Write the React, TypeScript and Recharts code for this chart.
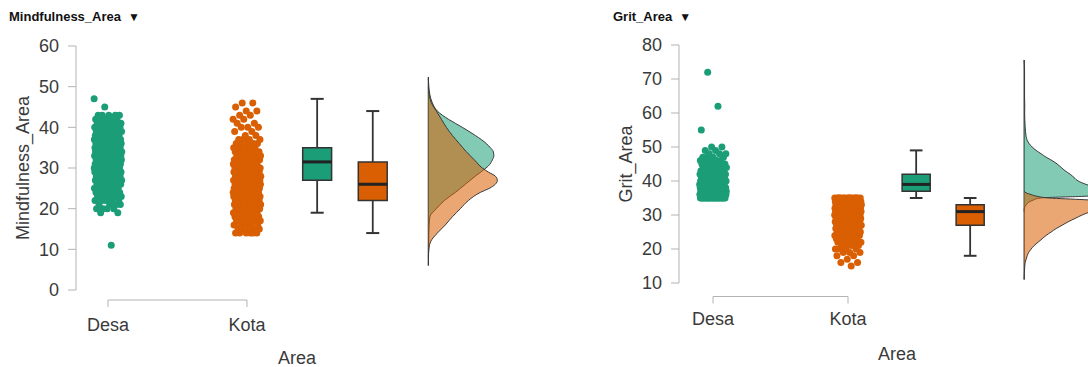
import React from 'react';
import { ComposedChart, XAxis, YAxis, Scatter, ReferenceArea, ReferenceLine, Curve } from 'recharts';

// ---------- shared categories / styling ----------
const groups = ['Desa', 'Kota'];
const groupPos = [1, 2];
const boxPos = [2.505, 2.905];
const DENS_BASE = 3.305;
const GREEN = '#1b9e77';
const ORANGE = '#d95f02';
const AXIS = '#b3b3b3';
const TEXT = '#3a3a3a';
const FONT = '"Liberation Sans", Arial, Helvetica, sans-serif';

// ---------- Mindfulness_Area ----------
const mindDesaScores = [11, 19, 20, 21, 22, 23, 24, 25, 26, 27, 28, 29, 30, 31, 32, 33, 34, 35, 36, 37, 38, 39, 40, 41, 42, 43, 45, 47];
const mindDesaCounts = [1, 2, 4, 4, 5, 6, 7, 8, 9, 10, 11, 12, 13, 13, 14, 15, 15, 14, 12, 11, 10, 9, 8, 7, 6, 5, 1, 1];
const mindKotaScores = [14, 15, 16, 17, 18, 19, 20, 21, 22, 23, 24, 25, 26, 27, 28, 29, 30, 31, 32, 33, 34, 35, 36, 37, 38, 39, 40, 41, 42, 43, 44, 45, 46];
const mindKotaCounts = [6, 5, 5, 6, 7, 8, 9, 10, 11, 12, 13, 14, 15, 15, 14, 12, 11, 10, 9, 8, 7, 6, 5, 4, 2, 2, 3, 2, 2, 2, 2, 1, 2];
// box: min, Q1, median, Q3, max
const mindDesaBox = [19, 27, 31.5, 35, 47];
const mindKotaBox = [14, 22, 26, 31.5, 44];
// density (x1000) at score
const mindDesaDensY = [6, 10, 14, 16, 18, 20, 22, 24, 26, 28, 29.5, 30.5, 32, 33, 34, 35, 36, 37, 38, 40, 42, 44, 46, 48, 50, 52];
const mindDesaDens = [0, 0.3, 0.5, 0.8, 1.5, 8, 16, 27, 37, 47, 55, 60, 64, 65.5, 65, 62, 58, 53, 47, 34, 20, 9, 4, 1.5, 0.5, 0];
const mindKotaDensY = [8, 10, 12, 14, 16, 18, 19, 20, 22, 24, 25, 26, 27, 28, 29, 30, 32, 34, 36, 38, 40, 42, 44, 46, 48, 50];
const mindKotaDens = [0, 0.5, 2.5, 9, 17, 24, 28, 32, 40, 52, 61, 67, 69, 67, 60, 54, 46, 38, 31, 24, 18, 13, 8, 3, 1, 0];
const mindTicks = [0, 10, 20, 30, 40, 50, 60];

// ---------- Grit_Area ----------
const gritDesaScores = [35, 36, 37, 38, 39, 40, 41, 42, 43, 44, 45, 46, 47, 48, 49, 50, 55, 62, 72];
const gritDesaCounts = [20, 22, 20, 18, 16, 14, 12, 10, 8, 7, 6, 5, 4, 3, 2, 2, 1, 1, 1];
const gritKotaScores = [15, 16, 17, 18, 19, 20, 21, 22, 23, 24, 25, 26, 27, 28, 29, 30, 31, 32, 33, 34, 35];
const gritKotaCounts = [1, 2, 1, 2, 3, 4, 4, 5, 6, 7, 8, 9, 10, 12, 13, 14, 16, 18, 20, 18, 16];
const gritDesaBox = [35, 37, 39, 42, 49];
const gritKotaBox = [18, 27, 31, 33, 35];
const gritDesaDensY = [31, 32, 33, 34, 34.5, 35, 35.5, 36, 37, 38, 39, 40, 41, 42, 43, 44, 45, 46, 47, 48, 49, 50, 51, 53, 56, 60, 62, 65, 72, 75.6];
const gritDesaDens = [0, 0.2, 2, 6, 10, 16, 60, 95, 85, 72, 62, 54, 50, 46, 41, 37, 33, 28, 22, 17, 12, 8, 5, 2, 1, 0.5, 0.6, 0.4, 0.4, 0];
const gritKotaDensY = [11, 13, 15, 16, 17, 18, 19, 20, 21, 22, 23, 24, 25, 26, 27, 28, 29, 30, 31, 32, 33, 34, 34.5, 35, 35.5, 36, 36.5, 37];
const gritKotaDens = [0, 0.2, 0.6, 1, 2, 3, 4.5, 7, 10, 14, 18, 22, 27, 32, 38, 44, 51, 58, 67, 80, 92, 88, 60, 25, 13, 7, 2, 0];
const gritTicks = [10, 20, 30, 40, 50, 60, 70, 80];

type Cfg = {
  title: string; yLabel: string; left: number; titleX: number;
  yDomain: number[]; yTicks: number[]; top: number; bottom: number; right: number;
  xDomain: number[]; pxPerUnit: number; gap: number; labelDy: number; areaOffset: number;
  desaScores: number[]; desaCounts: number[]; kotaScores: number[]; kotaCounts: number[];
  desaBox: number[]; kotaBox: number[];
  desaDensY: number[]; desaDens: number[]; kotaDensY: number[]; kotaDens: number[];
  baseRange: number[];
};

const panels: Cfg[] = [
  {
    title: 'Mindfulness_Area', yLabel: 'Mindfulness_Area', left: 0, titleX: 9,
    yDomain: [0, 60], yTicks: mindTicks, top: 46, bottom: 290, right: 84,
    xDomain: [0.77, 3.95], pxPerUnit: 139, gap: 10, labelDy: 41, areaOffset: 3,
    desaScores: mindDesaScores, desaCounts: mindDesaCounts, kotaScores: mindKotaScores, kotaCounts: mindKotaCounts,
    desaBox: mindDesaBox, kotaBox: mindKotaBox,
    desaDensY: mindDesaDensY, desaDens: mindDesaDens, kotaDensY: mindKotaDensY, kotaDens: mindKotaDens,
    baseRange: [6, 52.4],
  },
  {
    title: 'Grit_Area', yLabel: 'Grit_Area', left: 603, titleX: 10,
    yDomain: [10, 80], yTicks: gritTicks, top: 45, bottom: 283, right: 90,
    xDomain: [0.748, 3.978], pxPerUnit: 135, gap: 13.5, labelDy: 42, areaOffset: 7,
    desaScores: gritDesaScores, desaCounts: gritDesaCounts, kotaScores: gritKotaScores, kotaCounts: gritKotaCounts,
    desaBox: gritDesaBox, kotaBox: gritKotaBox,
    desaDensY: gritDesaDensY, desaDens: gritDesaDens, kotaDensY: gritKotaDensY, kotaDens: gritKotaDens,
    baseRange: [11, 75.6],
  },
];

const JITTER = 0.1;
const BOX_HW = 0.104;
const CAP_HW = 0.047;

function expand(scores: number[], counts: number[], pos: number) {
  const pts: { x: number; y: number }[] = [];
  let i = 1;
  scores.forEach((s, k) => {
    for (let c = 0; c < counts[k]; c++) {
      const f = (i * 0.6180339887498949) % 1;
      pts.push({ x: pos + JITTER * (f * 2 - 1), y: s });
      i++;
    }
  });
  return pts;
}

function densPts(ys: number[], ds: number[], pxPerUnit: number) {
  return ys.map((v, i) => ({ x: DENS_BASE + ds[i] / pxPerUnit, y: v }));
}

function Panel({ cfg }: { cfg: Cfg }) {
  const H = 367;
  const W = 602;
  const plotH = cfg.bottom - cfg.top;
  const yFrame = cfg.yDomain[0] - (cfg.gap * (cfg.yDomain[1] - cfg.yDomain[0])) / plotH;
  const desaPts = expand(cfg.desaScores, cfg.desaCounts, groupPos[0]);
  const kotaPts = expand(cfg.kotaScores, cfg.kotaCounts, groupPos[1]);
  const dDesa = densPts(cfg.desaDensY, cfg.desaDens, cfg.pxPerUnit);
  const dKota = densPts(cfg.kotaDensY, cfg.kotaDens, cfg.pxPerUnit);
  const boxes = [
    { pos: boxPos[0], b: cfg.desaBox, color: GREEN },
    { pos: boxPos[1], b: cfg.kotaBox, color: ORANGE },
  ];

  const XTick = (p: any) => {
    const { x, y, payload } = p;
    const idx = groupPos.indexOf(payload.value);
    return (
      <g>
        <line x1={x} x2={x} y1={y + cfg.gap} y2={y + cfg.gap + 7} stroke={AXIS} strokeWidth={1} />
        <text x={x} y={y + cfg.labelDy} textAnchor="middle" fontSize={18} fill={TEXT} fontFamily={FONT}>
          {groups[idx]}
        </text>
      </g>
    );
  };

  const densLine = (color: string) => (lp: any) => (
    <Curve
      points={lp.points}
      type="monotoneY"
      fill={color}
      fillOpacity={0.55}
      stroke="#3a3a3a"
      strokeWidth={1}
    />
  );

  return (
    <div style={{ position: 'absolute', left: cfg.left, top: 0, width: W, height: H }}>
      <ComposedChart width={W} height={H} margin={{ top: cfg.top, right: cfg.right, bottom: 0, left: 0 }} style={{ fontFamily: FONT }}>
        <XAxis
          type="number"
          dataKey="x"
          domain={cfg.xDomain}
          allowDataOverflow
          ticks={groupPos}
          interval={0}
          axisLine={false}
          tickLine={false}
          tickSize={0}
          tickMargin={0}
          height={H - cfg.bottom}
          tick={XTick}
          label={{ value: 'Area', position: 'insideBottom', offset: cfg.areaOffset, fill: TEXT, fontSize: 18, fontFamily: FONT }}
        />
        <YAxis
          type="number"
          dataKey="y"
          domain={cfg.yDomain}
          ticks={cfg.yTicks}
          interval={0}
          width={76}
          tickSize={8}
          tickMargin={9}
          axisLine={{ stroke: AXIS }}
          tickLine={{ stroke: AXIS }}
          tick={{ fill: TEXT, fontSize: 18, fontFamily: FONT }}
          label={{ value: cfg.yLabel, angle: -90, position: 'insideLeft', offset: 23, fill: TEXT, fontSize: 18, fontFamily: FONT, style: { textAnchor: 'middle' } }}
        />
        <ReferenceLine
          segment={[{ x: groupPos[0], y: yFrame }, { x: groupPos[1], y: yFrame }]}
          ifOverflow="visible"
          stroke={AXIS}
          strokeWidth={1}
        />
        <Scatter data={dDesa} fill={GREEN} line={densLine(GREEN)} lineJointType="monotoneY" shape={() => <g />} isAnimationActive={false} legendType="none" />
        <Scatter data={dKota} fill={ORANGE} line={densLine(ORANGE)} lineJointType="monotoneY" shape={() => <g />} isAnimationActive={false} legendType="none" />
        <ReferenceLine
          segment={[{ x: DENS_BASE, y: cfg.baseRange[0] }, { x: DENS_BASE, y: cfg.baseRange[1] }]}
          stroke="#333"
          strokeWidth={1.2}
        />
        {boxes.map((bx, i) => (
          <ReferenceLine key={`wl${i}`} segment={[{ x: bx.pos, y: bx.b[0] }, { x: bx.pos, y: bx.b[1] }]} stroke="#333" strokeWidth={1.8} />
        ))}
        {boxes.map((bx, i) => (
          <ReferenceLine key={`wu${i}`} segment={[{ x: bx.pos, y: bx.b[3] }, { x: bx.pos, y: bx.b[4] }]} stroke="#333" strokeWidth={1.8} />
        ))}
        {boxes.map((bx, i) => (
          <ReferenceLine key={`cl${i}`} segment={[{ x: bx.pos - CAP_HW, y: bx.b[0] }, { x: bx.pos + CAP_HW, y: bx.b[0] }]} stroke="#333" strokeWidth={2} />
        ))}
        {boxes.map((bx, i) => (
          <ReferenceLine key={`cu${i}`} segment={[{ x: bx.pos - CAP_HW, y: bx.b[4] }, { x: bx.pos + CAP_HW, y: bx.b[4] }]} stroke="#333" strokeWidth={2} />
        ))}
        {boxes.map((bx, i) => (
          <ReferenceArea key={`bx${i}`} x1={bx.pos - BOX_HW} x2={bx.pos + BOX_HW} y1={bx.b[1]} y2={bx.b[3]} fill={bx.color} fillOpacity={1} stroke="#333" strokeWidth={1.5} />
        ))}
        {boxes.map((bx, i) => (
          <ReferenceLine key={`md${i}`} segment={[{ x: bx.pos - BOX_HW, y: bx.b[2] }, { x: bx.pos + BOX_HW, y: bx.b[2] }]} stroke="#222" strokeWidth={3} />
        ))}
        <Scatter data={desaPts} fill={GREEN} shape={(p: any) => <circle cx={p.cx} cy={p.cy} r={3.5} fill={GREEN} />} isAnimationActive={false} legendType="none" />
        <Scatter data={kotaPts} fill={ORANGE} shape={(p: any) => <circle cx={p.cx} cy={p.cy} r={3.5} fill={ORANGE} />} isAnimationActive={false} legendType="none" />
      </ComposedChart>
      <div
        style={{
          position: 'absolute', left: cfg.titleX, top: 9, fontFamily: FONT, fontSize: 13,
          fontWeight: 'bold', lineHeight: '16px', color: '#111', whiteSpace: 'nowrap',
        }}
      >
        {cfg.title}
        <span style={{ fontSize: 12, marginLeft: 7 }}>▼</span>
      </div>
    </div>
  );
}

export default function App() {
  return (
    <div style={{ position: 'absolute', left: 0, top: 0, width: 1088, height: 367, overflow: 'hidden', background: '#fff' }}>
      {panels.map((cfg, i) => (
        <Panel key={i} cfg={cfg} />
      ))}
    </div>
  );
}
